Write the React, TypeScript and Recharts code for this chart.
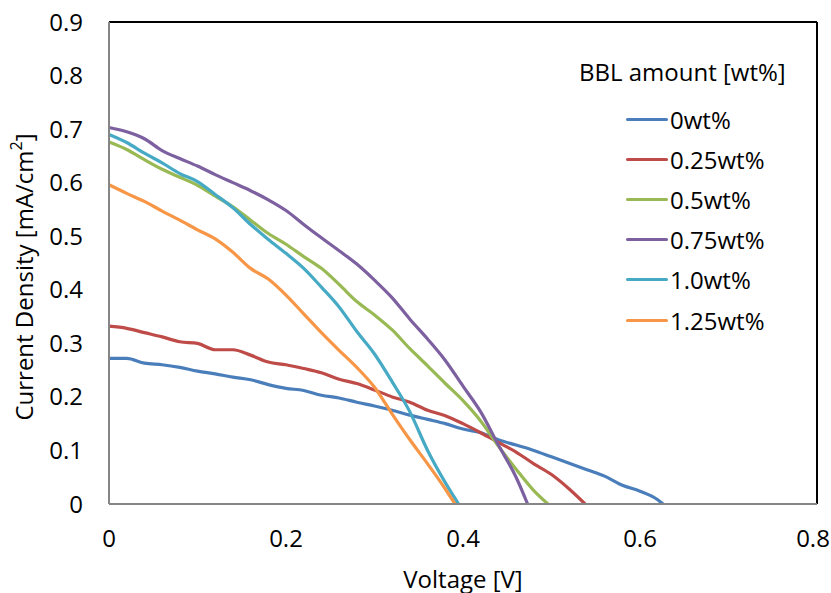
import React from 'react';
import { LineChart, Line, XAxis, YAxis, ReferenceLine } from 'recharts';

const xTicks = [0, 0.2, 0.4, 0.6, 0.8];
const yTicks = [0, 0.1, 0.2, 0.3, 0.4, 0.5, 0.6, 0.7, 0.8, 0.9];

const s0 = [
  [0, 0.272], [0.02, 0.272], [0.04, 0.263], [0.06, 0.26], [0.08, 0.255], [0.1, 0.248], [0.12, 0.243],
  [0.14, 0.237], [0.16, 0.232], [0.18, 0.223], [0.2, 0.216], [0.22, 0.212], [0.24, 0.203], [0.26, 0.198],
  [0.28, 0.19], [0.3, 0.183], [0.32, 0.175], [0.34, 0.166], [0.36, 0.158], [0.38, 0.15], [0.4, 0.14],
  [0.42, 0.133], [0.44, 0.12], [0.46, 0.11], [0.48, 0.1], [0.5, 0.088], [0.52, 0.076], [0.54, 0.064],
  [0.56, 0.052], [0.58, 0.035], [0.6, 0.024], [0.62, 0.008], [0.626, 0],
];
const s025 = [
  [0, 0.332], [0.02, 0.328], [0.04, 0.32], [0.06, 0.312], [0.08, 0.303], [0.1, 0.3], [0.12, 0.288],
  [0.14, 0.288], [0.16, 0.278], [0.18, 0.265], [0.2, 0.26], [0.22, 0.253], [0.24, 0.245], [0.26, 0.233],
  [0.28, 0.225], [0.3, 0.213], [0.32, 0.2], [0.34, 0.19], [0.36, 0.175], [0.38, 0.165], [0.4, 0.15],
  [0.42, 0.133], [0.44, 0.115], [0.46, 0.097], [0.48, 0.075], [0.5, 0.055], [0.52, 0.028], [0.538, 0],
];
const s05 = [
  [0, 0.676], [0.02, 0.662], [0.04, 0.643], [0.06, 0.625], [0.08, 0.61], [0.1, 0.595], [0.12, 0.575],
  [0.14, 0.555], [0.16, 0.53], [0.18, 0.505], [0.2, 0.485], [0.22, 0.462], [0.24, 0.44], [0.26, 0.41],
  [0.28, 0.378], [0.3, 0.353], [0.32, 0.325], [0.34, 0.29], [0.36, 0.258], [0.38, 0.225], [0.4, 0.193],
  [0.42, 0.155], [0.44, 0.108], [0.46, 0.065], [0.48, 0.025], [0.496, 0],
];
const s075 = [
  [0, 0.703], [0.02, 0.695], [0.04, 0.682], [0.06, 0.66], [0.08, 0.645], [0.1, 0.631], [0.12, 0.615],
  [0.14, 0.6], [0.16, 0.585], [0.18, 0.568], [0.2, 0.548], [0.22, 0.522], [0.24, 0.497], [0.26, 0.473],
  [0.28, 0.448], [0.3, 0.418], [0.32, 0.385], [0.34, 0.345], [0.36, 0.308], [0.38, 0.268], [0.4, 0.22],
  [0.42, 0.172], [0.44, 0.11], [0.46, 0.05], [0.473, 0],
];
const s10 = [
  [0, 0.69], [0.02, 0.675], [0.04, 0.655], [0.06, 0.637], [0.08, 0.617], [0.1, 0.602], [0.12, 0.578],
  [0.14, 0.553], [0.16, 0.522], [0.18, 0.494], [0.2, 0.468], [0.22, 0.44], [0.24, 0.405], [0.26, 0.368],
  [0.28, 0.322], [0.3, 0.28], [0.32, 0.228], [0.34, 0.172], [0.36, 0.1], [0.38, 0.04], [0.395, 0],
];
const s125 = [
  [0, 0.596], [0.02, 0.58], [0.04, 0.565], [0.06, 0.547], [0.08, 0.53], [0.1, 0.512], [0.12, 0.495],
  [0.14, 0.47], [0.16, 0.44], [0.18, 0.42], [0.2, 0.39], [0.22, 0.355], [0.24, 0.32], [0.26, 0.287],
  [0.28, 0.255], [0.3, 0.218], [0.32, 0.168], [0.34, 0.12], [0.36, 0.075], [0.38, 0.028], [0.391, 0],
];

const seriesNames = ['0wt%', '0.25wt%', '0.5wt%', '0.75wt%', '1.0wt%', '1.25wt%'];
const seriesData = [s0, s025, s05, s075, s10, s125];
const colors = ['#4a7ebb', '#be4b48', '#98b954', '#7d60a0', '#46aac5', '#f79646'];

const toRows = (arr: number[][]) => arr.map(([v, j]) => ({ v, j }));

const FONT = '"Open Sans", "Liberation Sans", sans-serif';
const FS = 24;

const LegendBox = () => (
  <div style={{ fontFamily: FONT, color: '#000', position: 'absolute', left: 540, top: 50, width: 290, height: 300, pointerEvents: 'none' }}>
    <div style={{ position: 'absolute', left: 39, top: 22, fontSize: FS, lineHeight: '0px', whiteSpace: 'nowrap' }}>BBL amount [wt%]</div>
    {seriesNames.map((n, i) => (
      <div key={n} style={{ position: 'absolute', left: 86, top: 69 + i * 40.2, height: 0, display: 'flex', alignItems: 'center', whiteSpace: 'nowrap' }}>
        <div style={{ width: 42, height: 3, background: colors[i], borderRadius: 2 }} />
        <span style={{ fontSize: FS, marginLeft: 2 }}>{n}</span>
      </div>
    ))}
  </div>
);

const YLabel = () => (
  <text x={27} y={277} transform="rotate(-90 27 277)" textAnchor="middle" dominantBaseline="middle"
    style={{ fontFamily: FONT, fontSize: FS, fill: '#000' }}>
    Current Density [mA/cm<tspan dy={-9} fontSize={16}>2</tspan><tspan dy={9}>]</tspan>
  </text>
);

const XTick = (props: any) => {
  const { x, y, payload } = props;
  const last = payload.value === xTicks[xTicks.length - 1];
  return (
    <text x={last ? x - 4 : x} y={y} dy="0.71em" textAnchor="middle"
      style={{ fontFamily: FONT, fontSize: FS, fill: '#000' }}>
      {String(payload.value)}
    </text>
  );
};

export default function App() {
  return (
    <div style={{ position: 'absolute', left: 0, top: 0, width: 831, height: 593, background: '#fff' }}>
      <LineChart width={831} height={593} margin={{ top: 22, right: 14, bottom: 0, left: 0 }}>
        <XAxis type="number" dataKey="v" domain={[0, 0.8]} ticks={xTicks} interval={0} height={89}
          axisLine={{ stroke: '#868686', strokeWidth: 2 }} tickLine={false}
          tick={<XTick />} tickMargin={20}
          label={{ value: 'Voltage [V]', position: 'insideBottom', offset: 5, style: { fontFamily: FONT, fontSize: FS, fill: '#000' } }} />
        <YAxis type="number" dataKey="j" domain={[0, 0.9]} ticks={yTicks} interval={0} width={109}
          axisLine={{ stroke: '#868686', strokeWidth: 2 }} tickLine={false}
          tick={{ fontFamily: FONT, fontSize: FS, fill: '#000' }} tickMargin={20}
          label={<YLabel />} />
        <ReferenceLine y={0.9} stroke="#000" strokeWidth={2} />
        <ReferenceLine x={0.8} stroke="#000" strokeWidth={2} />
        {seriesData.map((d, i) => (
          <Line key={seriesNames[i]} name={seriesNames[i]} data={toRows(d)} dataKey="j" type="monotone"
            stroke={colors[i]} strokeWidth={3.2} dot={false} isAnimationActive={false} />
        ))}
      </LineChart>
      <LegendBox />
    </div>
  );
}
